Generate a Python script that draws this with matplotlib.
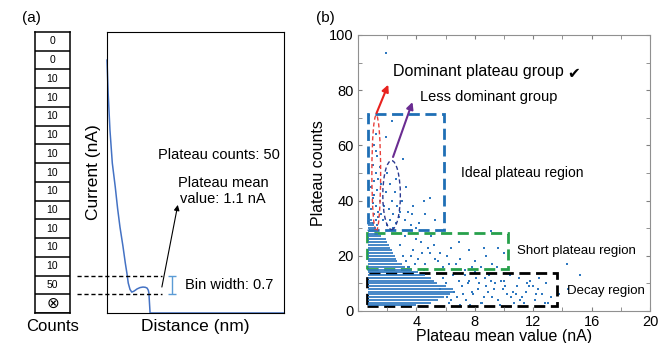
import matplotlib
matplotlib.use("Agg")
import matplotlib.pyplot as plt
from matplotlib import patches

plt.rcParams["font.family"] = ["Liberation Sans", "DejaVu Sans"]

# ---- panel (a) data ----
# counts per current bin, top to bottom
count_labels = ["0", "0", "10", "10", "10", "10", "10", "10", "10", "10",
                "10", "10", "10", "50", "\u2297"]
bin_width = 0.7

# single current-distance trace
distance_nm = [0.0, 0.02, 0.05, 0.09, 0.14, 0.18, 0.22, 0.27, 0.31, 0.34, 0.36,
               0.39, 0.42, 0.46, 0.51, 0.56, 0.61, 0.65, 0.68, 0.70, 0.71, 0.73, 3.0]
current_nA = [9.45, 8.2, 6.84, 5.6, 4.71, 3.9, 3.21, 2.5, 1.87, 1.45, 1.12,
              0.88, 0.78, 0.82, 0.90, 0.95, 0.97, 0.96, 0.93, 0.85, 0.75, 0.0, 0.0]

# ---- panel (b) data ----
# dense rows of the scatter: plateau counts and x extent of the dense part
row_counts = [2, 3, 4, 5, 6, 7, 8, 9, 10, 11, 12, 13, 14, 15, 16, 17, 18, 19,
              20, 21, 22, 23, 24, 25, 26, 27, 28, 29, 30, 31, 32, 33]
row_start = [0.7] * len(row_counts)
row_end = [4.0, 5.0, 5.5, 5.9, 6.3, 6.6, 6.5, 6.0, 5.4, 5.2, 5.0, 4.6, 4.1, 3.6,
           3.2, 3.0, 2.7, 2.6, 2.5, 2.4, 2.3, 2.2, 2.1, 2.0, 1.9, 1.6, 1.4, 1.3,
           1.2, 1.1, 1.0, 0.95]

# sparse points (mean value nA, counts)
sparse_x = [6.2, 6.8, 7.1, 7.4, 7.6, 7.9, 8.2, 8.5, 8.7, 8.9, 9.2, 9.4, 9.6, 9.9,
            10.2, 10.4, 10.7, 10.9, 11.2, 11.5, 11.8, 12.1, 12.3, 12.6, 12.9, 13.2,
            6.5, 7.0, 8.0, 9.0, 10.0, 11.0, 6.0, 6.6, 7.3, 8.3, 9.7, 10.5, 12.0,
            13.0, 5.8, 6.9, 7.7, 8.8, 11.4, 12.4, 14.4, 15.2, 14.3, 13.8,
            6.4, 7.2, 7.5, 8.1, 8.6, 9.3, 9.8, 10.6, 11.1, 11.7, 12.2, 12.8,
            5.6, 6.1, 7.8, 8.4, 9.1, 10.1, 10.8, 11.6,
            3.2, 3.5, 3.8, 4.1, 4.3, 4.6, 4.9, 5.2, 5.5, 5.8, 6.1, 6.4, 6.7, 7.0,
            7.3, 7.6, 8.0, 8.4, 8.8, 9.2, 9.6, 10.0, 3.6, 4.0, 4.5, 5.0, 5.6, 6.2,
            6.9, 7.8, 8.6, 9.5, 9.1, 3.3, 4.8, 3.9, 4.4, 5.3, 2.9, 3.1, 3.4,
            1.0, 1.1, 1.2, 1.0, 1.3, 1.1, 1.2, 1.0, 1.3, 1.1, 1.2, 1.4, 1.5, 0.9,
            1.4, 1.2, 1.3, 1.6, 1.1, 1.2, 1.5, 1.7, 1.8, 1.9, 0.9, 1.0, 1.4, 1.6,
            2.0, 2.2, 2.4, 2.6, 2.1, 2.3, 2.7, 2.5, 2.2, 2.8, 2.0, 2.6, 2.4, 2.9,
            3.2, 3.4, 3.0, 3.6, 3.8, 4.2, 4.5, 4.9, 3.3, 3.7, 4.0, 2.3, 1.9, 3.1,
            5.3, 4.6, 1.93]
sparse_y = [3, 5, 9, 4, 11, 6, 8, 3, 12, 7, 5, 10, 4, 8,
            6, 13, 3, 9, 5, 7, 11, 4, 8, 6, 10, 5,
            13, 2, 14, 13, 11, 12, 10, 7, 13, 10, 2, 5, 9,
            3, 12, 11, 2, 9, 3, 12, 8, 13, 17, 6,
            4, 6, 10, 12, 5, 8, 11, 7, 4, 9, 6, 3,
            8, 5, 7, 3, 11, 9, 6, 10,
            27, 16, 22, 19, 25, 17, 21, 24, 18, 16, 20, 23, 17, 19,
            15, 22, 18, 16, 20, 17, 23, 21, 20, 26, 15, 27, 21, 17,
            25, 16, 23, 16, 29, 18, 23, 17, 21, 19, 24, 20, 16,
            32, 35, 38, 41, 44, 47, 50, 53, 56, 60, 64, 36, 40, 45,
            48, 33, 31, 35, 42, 58, 52, 33, 38, 43, 37, 39, 34, 46,
            31, 33, 35, 32, 37, 40, 38, 43, 46, 34, 50, 48, 30, 36,
            33, 36, 40, 31, 38, 32, 40, 41, 45, 35, 30, 69, 63, 55,
            33, 35, 93.5]

W, H = 661, 343


def rect(l, t, r, b):
    return [l / W, 1 - b / H, (r - l) / W, (b - t) / H]


fig = plt.figure(figsize=(W / 100, H / 100), dpi=100)

# ---------------- panel (a): counts column ----------------
n_bins = len(count_labels)
ymax = n_bins * bin_width
ax_cnt = fig.add_axes(rect(35, 32, 70, 313))
ax_cnt.set_xlim(0, 1)
ax_cnt.set_ylim(0, ymax)
for i, lab in enumerate(count_labels[::-1]):
    ax_cnt.axhline(i * bin_width, color="black", lw=1.1)
    ax_cnt.text(0.5, (i + 0.5) * bin_width, lab, ha="center", va="center",
                fontsize=11 if lab == "\u2297" else 7.5)
for s in ax_cnt.spines.values():
    s.set_linewidth(1.1)
ax_cnt.set_xticks([])
ax_cnt.set_yticks([])
ax_cnt.set_xlabel("Counts", fontsize=12, labelpad=4)

# ---------------- panel (a): current trace ----------------
ax_cur = fig.add_axes(rect(107, 32, 284, 313))
ax_cur.set_xlim(0, 3.0)
ax_cur.set_ylim(0, ymax)
ax_cur.plot(distance_nm, current_nA, color="#4472C4", lw=1.1, clip_on=False)
ax_cur.set_xticks([])
ax_cur.set_yticks([])
ax_cur.set_xlabel("Distance (nm)", fontsize=12.5, labelpad=4)
ax_cur.set_ylabel("Current (nA)", fontsize=12.5, labelpad=4)

for yy in [bin_width, 2 * bin_width]:
    ax_cur.plot([-0.51, 0.93], [yy, yy], color="black", ls=(0, (3, 2)),
                lw=1.0, clip_on=False)
ax_cur.errorbar(1.10, 1.5 * bin_width, yerr=bin_width / 2, color="#5B9BD5",
                capsize=3, lw=1.0, capthick=1.0)
ax_cur.text(1.32, 1.5 * bin_width, "Bin width: 0.7", fontsize=10.5,
            va="center")
ax_cur.text(0.86, 5.9, "Plateau counts: 50", fontsize=10.5, va="center")
ax_cur.text(1.97, 4.55, "Plateau mean\nvalue: 1.1 nA", fontsize=10.5,
            ha="center", va="center")
ax_cur.annotate("", xy=(1.20, 4.04), xytext=(0.93, 0.97),
                arrowprops=dict(arrowstyle="-|>", color="black", lw=0.8,
                                mutation_scale=8, shrinkA=0, shrinkB=0))

# ---------------- panel (b): scatter ----------------
ax = fig.add_axes(rect(358, 35, 650, 311))
ax.hlines(row_counts, row_start, row_end, color="#2E78C0", lw=1.25)
ax.scatter(sparse_x, sparse_y, s=2.5, color="#2E78C0", marker="s",
           linewidths=0)
ax.set_xlim(0, 20)
ax.set_ylim(0, 100)
ax.set_xticks([0, 4, 8, 12, 16, 20])
ax.set_xticklabels(["", "4", "8", "12", "16", "20"])
ax.set_xticks([2, 6, 10, 14, 18], minor=True)
ax.set_yticks([0, 20, 40, 60, 80, 100])
ax.set_yticks([10, 30, 50, 70, 90], minor=True)
ax.tick_params(which="both", direction="in", top=True, right=True,
               length=3, color="#808080", labelsize=10.5, pad=3)
for s in ax.spines.values():
    s.set_color("#909090")
ax.set_xlabel("Plateau mean value (nA)", fontsize=11.5, labelpad=0)
ax.set_ylabel("Plateau counts", fontsize=11.5, labelpad=2)

ax.add_patch(patches.Rectangle((0.7, 29.5), 5.2, 42, fill=False,
                               ec="#1F6FB5", lw=2.0, ls=(0, (4, 2))))
ax.add_patch(patches.Rectangle((0.6, 15.2), 9.7, 13.1, fill=False,
                               ec="#27A04B", lw=2.0, ls=(0, (4, 2))))
ax.add_patch(patches.Rectangle((0.6, 1.8), 13.0, 12.0, fill=False,
                               ec="black", lw=2.0, ls=(0, (4, 2))))
ax.add_patch(patches.Ellipse((1.25, 50), 0.6, 42, fill=False, ec="#E8413C",
                             lw=1.0, ls=(0, (3, 2))))
ax.add_patch(patches.Ellipse((2.3, 42), 1.2, 25, fill=False, ec="#2B3990",
                             lw=1.0, ls=(0, (3, 2))))
ax.annotate("", xy=(2.07, 82), xytext=(1.27, 71.7),
            arrowprops=dict(arrowstyle="-|>", color="#E8221F", lw=1.5,
                            mutation_scale=10, shrinkA=0, shrinkB=0))
ax.annotate("", xy=(3.73, 75.7), xytext=(2.4, 55.8),
            arrowprops=dict(arrowstyle="-|>", color="#6A2C91", lw=1.5,
                            mutation_scale=10, shrinkA=0, shrinkB=0))

ax.text(2.4, 86.6, "Dominant plateau group", fontsize=11.5, va="center")
ax.text(14.3, 86.0, "\u2714", fontsize=11, va="center",
        family=["DejaVu Sans"])
ax.text(4.27, 77.5, "Less dominant group", fontsize=10.5, va="center")
ax.text(7.07, 50, "Ideal plateau region", fontsize=10, va="center")
ax.text(10.9, 21.7, "Short plateau region", fontsize=9.5, va="center")
ax.text(14.3, 7.3, "Decay region", fontsize=9.5, va="center")

fig.text(22 / W, 1 - 18 / H, "(a)", fontsize=11, ha="left", va="center")
fig.text(316 / W, 1 - 18 / H, "(b)", fontsize=11, ha="left", va="center")

fig.savefig("out.png", dpi=100)
plt.close(fig)
